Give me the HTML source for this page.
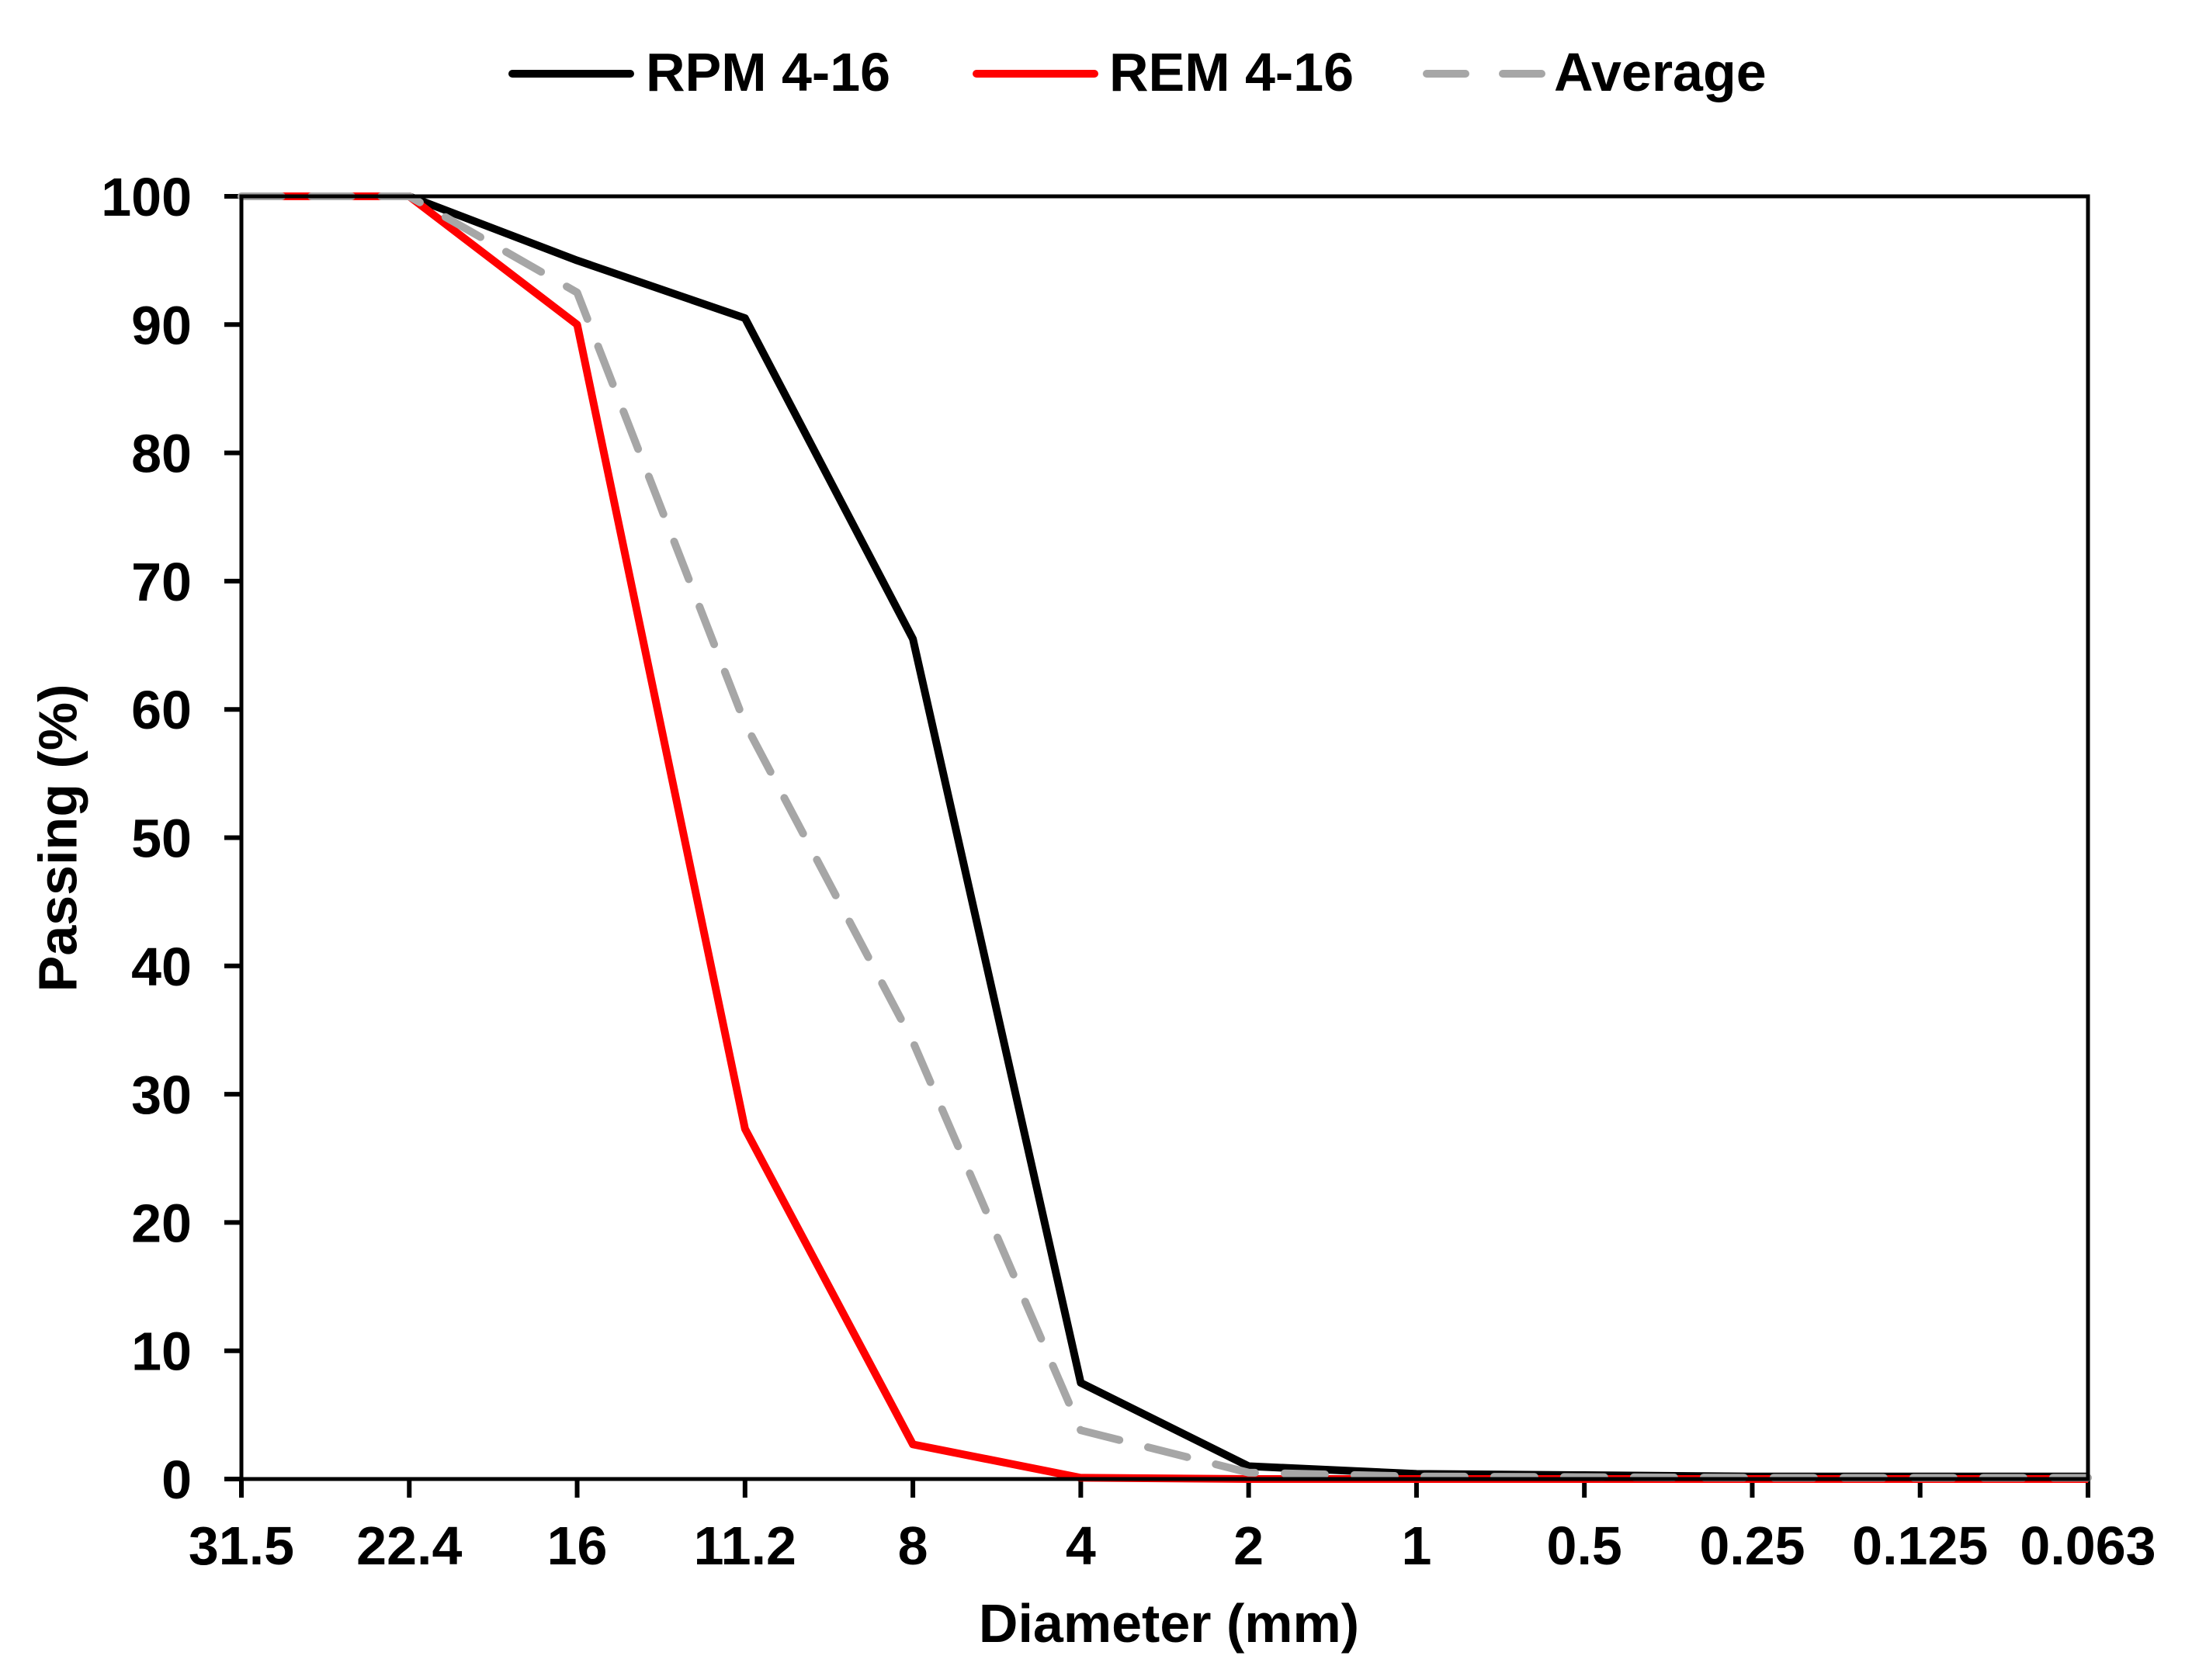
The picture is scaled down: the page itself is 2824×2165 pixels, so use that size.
<!DOCTYPE html>
<html><head><meta charset="utf-8"><style>
html,body{margin:0;padding:0;background:#fff;}
svg{display:block;font-family:"Liberation Sans",Arial,sans-serif;font-weight:bold;}
</style></head><body>
<svg id="chart" width="2824" height="2165" viewBox="0 0 2824 2165">
<g id="legend">
 <g>
  <line x1="660" y1="95" x2="812" y2="95" stroke="#000" stroke-width="10" stroke-linecap="round"/>
  <text x="832" y="117" font-size="70" fill="#000">RPM 4-16</text>
 </g>
 <g>
  <line x1="1258" y1="95" x2="1410" y2="95" stroke="#f00" stroke-width="10" stroke-linecap="round"/>
  <text x="1429" y="117" font-size="70" fill="#000">REM 4-16</text>
 </g>
 <g>
  <line x1="1838" y1="95" x2="1986" y2="95" stroke="#a6a6a6" stroke-width="10" stroke-linecap="round" stroke-dasharray="50 48"/>
  <text x="2002" y="117" font-size="70" fill="#000">Average</text>
 </g>
</g>
<g id="plot"></g>
<text x="80" y="1080" font-size="70" text-anchor="middle" transform="rotate(-90 80 1080)" dominant-baseline="middle">Passing (%)</text>
<text x="1516" y="2136" font-size="70" text-anchor="middle" transform="translate(-10,-20)">Diameter (mm)</text>
</svg>
<script>
const categories = ["31.5","22.4","16","11.2","8","4","2","1","0.5","0.25","0.125","0.063"];
const rpmValues = [100,100,95,90.5,65.5,7.5,1.0,0.4,0.3,0.2,0.2,0.2];
const remValues = [100,100,90,27.3,2.7,0.1,0,0,0,0,0,0];
const avgValues = [100,100,92.5,58.9,34.1,3.8,0.5,0.2,0.15,0.1,0.1,0.1];
const yTicks = [0,10,20,30,40,50,60,70,80,90,100];

const L=311,R=2690,T=253,B=1906;
const NS="http://www.w3.org/2000/svg";
const plot=document.getElementById('plot');
function xs(i){return L+(R-L)*i/(categories.length-1);}
function ys(v){return B-(B-T)*v/100;}
function mk(tag,attrs){const e=document.createElementNS(NS,tag);for(const k in attrs)e.setAttribute(k,attrs[k]);plot.appendChild(e);return e;}

yTicks.forEach(v=>{
  const t=mk('line',{x1:L-22,y1:ys(v),x2:L,y2:ys(v),stroke:'#000','stroke-width':6});
  
  
  const lb=mk('text',{x:247,y:ys(v)+25,'font-size':70,'text-anchor':'end'});
  lb.textContent=v;
  
  
});
categories.forEach((c,i)=>{
  const t=mk('line',{x1:xs(i),y1:B,x2:xs(i),y2:B+24,stroke:'#000','stroke-width':6});
  
  
  const lb=mk('text',{x:xs(i),y:2016,'font-size':70,'text-anchor':'middle'});
  lb.textContent=c;
  
  
});
function pts(arr){return arr.map((v,i)=>xs(i)+','+ys(v)).join(' ');}
const s1=mk('polyline',{points:pts(rpmValues),fill:'none',stroke:'#000','stroke-width':10,'stroke-linejoin':'round'});


const s2=mk('polyline',{points:pts(remValues),fill:'none',stroke:'#f00','stroke-width':10,'stroke-linejoin':'round'});


const s3=mk('polyline',{points:pts(avgValues),fill:'none',stroke:'#a6a6a6','stroke-width':10,'stroke-linecap':'round','stroke-linejoin':'round','stroke-dasharray':'52 38'});


const fr=mk('rect',{x:L,y:T,width:R-L,height:B-T,fill:'none',stroke:'#000','stroke-width':5});


</script>
</body></html>
